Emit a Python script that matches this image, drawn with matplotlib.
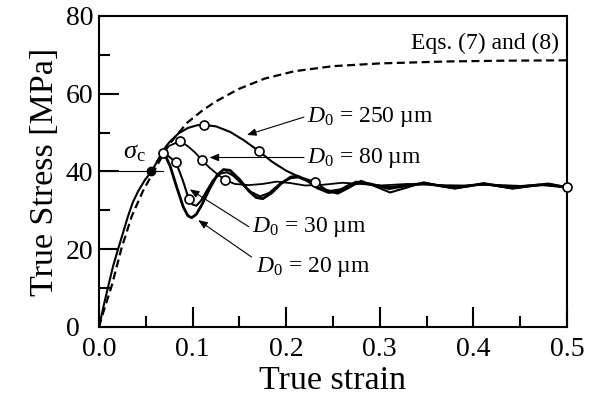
import matplotlib
matplotlib.use("Agg")
import matplotlib.pyplot as plt
import matplotlib.transforms as mtransforms

# Schriften (Times-aehnlich)
plt.rcParams['font.family'] = ['Liberation Serif', 'DejaVu Serif']
plt.rcParams['mathtext.fontset'] = 'custom'
plt.rcParams['mathtext.rm'] = 'Liberation Serif'
plt.rcParams['mathtext.it'] = 'Liberation Serif:italic'

# --- Daten ---

# Eqs. (7) und (8), gestrichelt
eq_strain = [0.0, 0.0046, 0.0136, 0.024, 0.035, 0.047, 0.0616, 0.075, 0.094, 0.110,
             0.124, 0.149, 0.177, 0.209, 0.25, 0.30, 0.371, 0.43, 0.5]
eq_stress = [0.0, 3.8, 10.6, 20.2, 28.5, 35.0, 41.4, 47.0, 52.5, 55.6,
             57.9, 61.2, 63.9, 65.8, 67.1, 67.8, 68.3, 68.5, 68.6]

# gemeinsamer Anstieg aller Kurven
rise_strain = [0.0, 0.005, 0.010, 0.015, 0.0206, 0.026, 0.031, 0.036, 0.042, 0.049, 0.056, 0.062]
rise_stress = [0.0, 5.5, 10.6, 15.6, 20.2, 24.5, 28.5, 32.0, 35.0, 37.8, 40.0, 42.5]

# D0 = 250 um
d250_strain = [0.068, 0.075, 0.085, 0.095, 0.105, 0.112, 0.125, 0.14, 0.155, 0.171,
               0.185, 0.2, 0.215, 0.231, 0.243, 0.255, 0.267, 0.28, 0.295, 0.311,
               0.328, 0.347, 0.362, 0.38, 0.395, 0.411, 0.427, 0.442, 0.46, 0.48, 0.5]
d250_stress = [45.3, 47.5, 49.8, 51.2, 51.9, 52.0, 51.6, 50.2, 48.0, 45.2,
               42.5, 40.2, 38.5, 37.3, 35.2, 34.3, 35.8, 37.6, 36.2, 34.6,
               35.8, 37.2, 36.4, 35.6, 36.2, 36.9, 36.2, 35.6, 36.2, 36.8, 35.9]

# D0 = 80 um
d80_strain = [0.068, 0.075, 0.0865, 0.095, 0.103, 0.110, 0.118, 0.127, 0.135, 0.145,
              0.16, 0.175, 0.19, 0.205, 0.22, 0.24, 0.26, 0.28, 0.30, 0.33,
              0.36, 0.39, 0.42, 0.45, 0.48, 0.5]
d80_stress = [45.0, 46.6, 47.8, 46.5, 44.8, 42.9, 41.0, 39.2, 37.8, 36.8,
              36.5, 36.8, 37.4, 37.0, 36.4, 36.6, 37.1, 36.8, 36.4, 36.8,
              36.5, 36.4, 36.6, 36.3, 36.5, 35.9]

# D0 = 30 um
d30_strain = [0.068, 0.075, 0.082, 0.086, 0.090, 0.096, 0.100, 0.104, 0.109, 0.115,
              0.122, 0.130, 0.137, 0.143, 0.152, 0.162, 0.172, 0.182, 0.193, 0.205,
              0.213, 0.223, 0.235, 0.247, 0.258, 0.27, 0.28, 0.295, 0.31, 0.33,
              0.35, 0.38, 0.41, 0.44, 0.47, 0.5]
d30_stress = [44.8, 43.8, 42.4, 40.0, 37.4, 32.8, 31.5, 31.2, 32.5, 35.0,
              37.8, 39.5, 39.8, 39.0, 37.0, 34.8, 33.6, 34.5, 36.8, 38.3,
              38.5, 37.5, 35.8, 35.0, 35.4, 36.6, 37.0, 36.5, 36.0, 36.5,
              36.8, 36.0, 36.7, 36.0, 36.6, 35.9]

# D0 = 20 um
d20_strain = [0.068, 0.072, 0.076, 0.083, 0.090, 0.095, 0.099, 0.104, 0.110, 0.118,
              0.126, 0.133, 0.140, 0.150, 0.160, 0.168, 0.175, 0.185, 0.195, 0.205,
              0.212, 0.222, 0.233, 0.245, 0.255, 0.265, 0.275, 0.29, 0.31, 0.33,
              0.347, 0.365, 0.38, 0.395, 0.411, 0.427, 0.442, 0.46, 0.48, 0.5]
d20_stress = [44.8, 43.5, 41.4, 36.0, 30.9, 28.6, 28.1, 29.0, 31.5, 35.5,
              39.0, 40.5, 40.3, 38.0, 35.0, 33.3, 33.0, 34.6, 37.0, 38.6,
              38.8, 37.8, 35.8, 34.6, 34.8, 36.2, 37.3, 36.8, 35.6, 36.4,
              37.0, 36.3, 35.8, 36.3, 36.9, 36.3, 35.8, 36.3, 36.8, 35.9]

# offene Kreise
circ_strain = [0.068, 0.0865, 0.112, 0.171, 0.110, 0.082, 0.096, 0.135, 0.231, 0.5]
circ_stress = [44.8, 47.8, 52.0, 45.2, 42.9, 42.4, 32.8, 37.8, 37.3, 35.9]

# kritische Spannung sigma_c
sc_strain = 0.056
sc_stress = 40.0

# --- Grafik ---
fig = plt.figure(figsize=(5.96, 3.98), dpi=100)
ax = fig.add_axes([0.1661, 0.1784, 0.7852, 0.7814])

ax.plot(eq_strain, eq_stress, color='k', lw=1.6, linestyle=(0, (3.6, 2.0)))

ax.plot(rise_strain + [0.068], rise_stress + [44.8], color='k', lw=1.5)
ax.plot(rise_strain[-1:] + d250_strain, rise_stress[-1:] + d250_stress, color='k', lw=1.5)
ax.plot(rise_strain[-1:] + d80_strain, rise_stress[-1:] + d80_stress, color='k', lw=1.3)
ax.plot(d30_strain, d30_stress, color='k', lw=1.5)
ax.plot(d20_strain, d20_stress, color='k', lw=2.0)

# Hilfslinie sigma_c
ax.plot([0.0, 0.068], [sc_stress, sc_stress], color='k', lw=0.8)
ax.plot(circ_strain, circ_stress, 'o', ms=6.5, mfc='white', mec='k', mew=1.2, zorder=5, clip_on=False)
ax.plot(sc_strain, sc_stress, 'o', ms=6, color='k', zorder=5)
ax.text(0.038, 44.7, r'$\sigma_{\rm c}$', fontsize=19, ha='center', va='center')

# Beschriftungen mit Pfeilen
arrow = dict(arrowstyle='-|>,head_length=0.55,head_width=0.22', color='k', lw=0.8,
             shrinkA=0, shrinkB=0)
ax.text(0.222, 54.0, r'$D_0$ = 250 µm', fontsize=17, va='center', ha='left')
ax.annotate('', xy=(0.158, 49.4), xytext=(0.219, 54.0), arrowprops=arrow)
ax.text(0.222, 43.6, r'$D_0$ = 80 µm', fontsize=17, va='center', ha='left')
ax.annotate('', xy=(0.118, 43.6), xytext=(0.219, 43.6), arrowprops=arrow)
ax.text(0.163, 25.8, r'$D_0$ = 30 µm', fontsize=17, va='center', ha='left')
ax.annotate('', xy=(0.097, 35.4), xytext=(0.160, 25.8), arrowprops=arrow)
ax.text(0.168, 15.5, r'$D_0$ = 20 µm', fontsize=17, va='center', ha='left')
ax.annotate('', xy=(0.106, 27.5), xytext=(0.163, 18.0), arrowprops=arrow)

ax.text(0.492, 73.0, 'Eqs. (7) and (8)', fontsize=17, va='center', ha='right')

# Achsen
ax.set_xlim(0, 0.5)
ax.set_ylim(0, 80)
ax.set_xticks([0.0, 0.1, 0.2, 0.3, 0.4, 0.5])
ax.set_xticks([0.05, 0.15, 0.25, 0.35, 0.45], minor=True)
ax.set_yticks([0, 20, 40, 60, 80])
ax.set_yticks([10, 30, 50, 70], minor=True)
ax.set_xticklabels(['0.0', '0.1', '0.2', '0.3', '0.4', '0.5'])
ax.tick_params(which='both', direction='in', width=1.5, labelsize=20)
ax.tick_params(axis='x', which='both', pad=7)
ax.tick_params(axis='y', which='both', pad=4)
ax.tick_params(which='major', length=14.5)
ax.tick_params(which='minor', length=8)
for s in ax.spines.values():
    s.set_linewidth(1.5)

# "0" der y-Achse etwas nach links schieben
null_lbl = ax.get_yticklabels()[0]
null_lbl.set_transform(null_lbl.get_transform() +
                       mtransforms.ScaledTranslation(-10 / 72, 0, fig.dpi_scale_trans))

ax.set_xlabel('True strain', fontsize=24.5, labelpad=3)
ax.set_ylabel('True Stress [MPa]', fontsize=24.5, labelpad=4)

fig.savefig('out.png', dpi=100)
